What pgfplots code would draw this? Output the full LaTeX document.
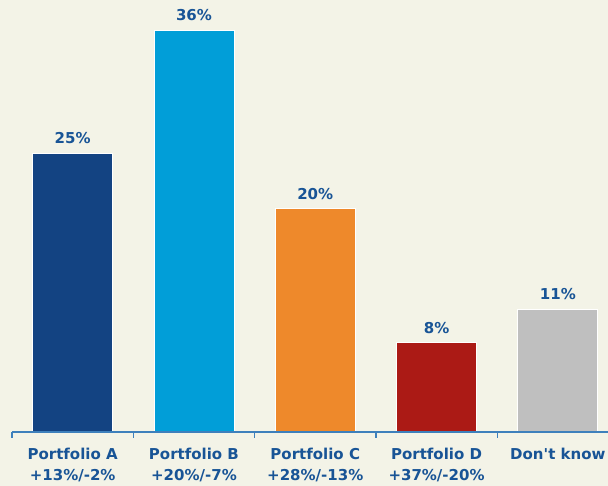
\documentclass[border=0pt]{standalone}
\usepackage{fontspec}
\setmainfont{DejaVu Sans}[Ligatures=TeXOff]
\usepackage{pgfplots}
\pgfplotsset{compat=1.18}

\definecolor{bg}{RGB}{243,243,231}
\definecolor{lbl}{RGB}{24,84,150}
\definecolor{axisblue}{RGB}{62,128,188}
\definecolor{cA}{RGB}{19,67,130}
\definecolor{cB}{RGB}{1,158,216}
\definecolor{cC}{RGB}{238,137,43}
\definecolor{cD}{RGB}{171,26,21}
\definecolor{cE}{RGB}{191,191,191}

\newcommand{\lblfont}{\bfseries\fontsize{15}{21}\selectfont}

\begin{document}
\begin{tikzpicture}
\useasboundingbox (0,0) rectangle (608pt,486pt);
\clip (0,0) rectangle (608pt,486pt);
\fill[bg] (0,0) rectangle (608pt,486pt);
\begin{axis}[
    at={(12pt,54pt)}, anchor=south west,
    scale only axis,
    width=606.5pt, height=424.1pt,
    xmin=-0.5, xmax=4.5,
    ymin=0, ymax=38,
    ybar, bar width=80pt, bar shift=0pt,
    axis x line=bottom, axis y line=none,
    axis line style={-, draw=axisblue, line width=1.3pt},
    axis on top,
    xtick={0,...,4},
    xticklabels={{Portfolio A\\+13\%/-2\%},{Portfolio B\\+20\%/-7\%},{Portfolio C\\+28\%/-13\%},{Portfolio D\\+37\%/-20\%},{Don't know}},
    minor xtick={-0.5,0.5,...,4.5},
    major tick length=0pt, minor tick length=6pt, tick align=outside,
    minor x tick style={draw=axisblue, line width=1.2pt},
    xticklabel style={font=\lblfont, text=lbl, align=center, yshift=-13pt},
    nodes near coords={\pgfmathprintnumber{\pgfplotspointmeta}\%},
    every node near coord/.append style={font=\lblfont, text=lbl, yshift=5.5pt},
    /pgf/number format/assume math mode=true,
    clip=false,
]
\addplot[fill=cA, draw=white, line width=0.8pt] coordinates {(0,25)};
\addplot[fill=cB, draw=white, line width=0.8pt] coordinates {(1,36)};
\addplot[fill=cC, draw=white, line width=0.8pt] coordinates {(2,20)};
\addplot[fill=cD, draw=white, line width=0.8pt] coordinates {(3,8)};
\addplot[fill=cE, draw=white, line width=0.8pt] coordinates {(4,11)};
\end{axis}
\end{tikzpicture}
\end{document}
